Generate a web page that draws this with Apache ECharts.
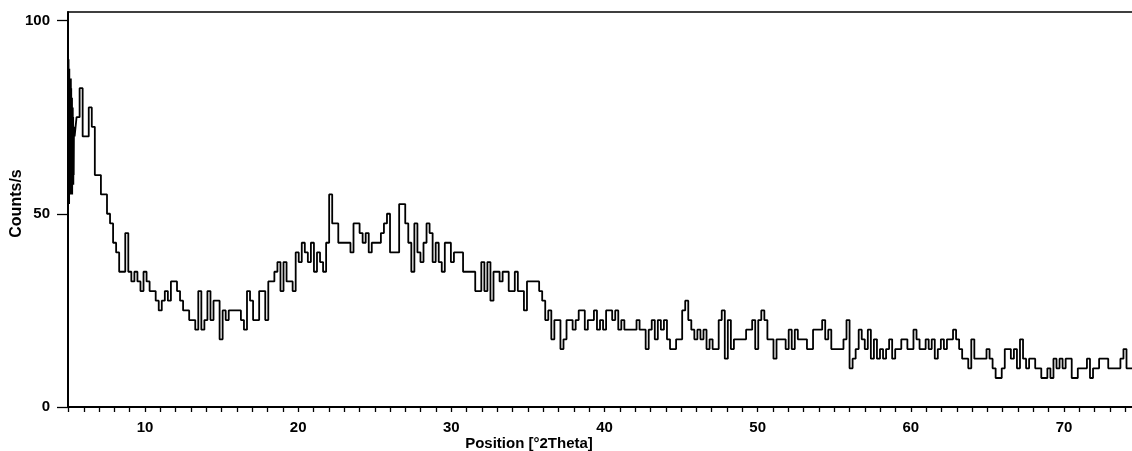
<!DOCTYPE html>
<html>
<head>
<meta charset="utf-8">
<script src="https://cdn.jsdelivr.net/npm/echarts@6/dist/echarts.min.js"></script>
<style>
  html, body { margin: 0; padding: 0; background: #fff; }
  #chart { width: 1132px; height: 451px; }
</style>
</head>
<body>
<div id="chart"></div>
<script>
// Fast oscillation at the very start of the scan (°2θ, counts/s)
const burstStart = 4.975;
const burstStep = 0.0125;
const burstCounts = [55, 90, 52.5, 90, 55, 87.5, 52.5, 87.5, 55, 85, 57.5, 85, 55, 82.5, 55, 85,
                     57.5, 82.5, 55, 80, 57.5, 80, 55, 77.5, 57.5, 77.5, 60, 75, 57.5, 72.5, 60, 70, 72.5];

// Main scan, one value per step
const scanStart = 5.43;
const scanStep = 0.1987;
const counts05 = [70, 75, 82.5, 70, 70, 77.5, 72.5, 60, 60, 55, 55, 50, 47.5, 42.5, 40, 35, 35, 45, 35, 32.5, 35, 32.5, 30];
const counts10 = [35, 32.5, 30, 30, 27.5, 25, 27.5, 30, 27.5, 32.5,
                  32.5, 30, 27.5, 25, 25, 22.5, 22.5, 20, 30, 20,
                  22.5, 30, 22.5, 27.5, 27.5, 17.5, 25, 22.5, 25, 25,
                  25, 25, 22.5, 20, 30, 27.5, 22.5, 22.5, 30, 30,
                  22.5, 32.5, 32.5, 35, 37.5, 30, 37.5, 32.5, 32.5, 30];
const counts20 = [40, 37.5, 42.5, 40, 37.5, 42.5, 35, 40, 37.5, 35,
                  42.5, 55, 47.5, 47.5, 42.5, 42.5, 42.5, 42.5, 40, 47.5,
                  47.5, 45, 42.5, 45, 40, 42.5, 42.5, 42.5, 45, 47.5,
                  50, 40, 40, 40, 52.5, 52.5, 47.5, 42.5, 35, 47.5,
                  40, 37.5, 42.5, 47.5, 45, 37.5, 42.5, 37.5, 35, 42.5];
const counts30 = [42.5, 37.5, 40, 40, 40, 35, 35, 35, 35, 30,
                  30, 37.5, 30, 37.5, 27.5, 35, 35, 32.5, 35, 35,
                  30, 30, 35, 30, 30, 25, 32.5, 32.5, 32.5, 32.5,
                  30, 27.5, 22.5, 25, 17.5, 22.5, 22.5, 15, 17.5, 22.5,
                  22.5, 20, 22.5, 25, 25, 20, 22.5, 22.5, 25, 20];
const counts40 = [22.5, 20, 25, 25, 22.5, 25, 20, 22.5, 20, 20,
                  20, 20, 22.5, 20, 20, 15, 20, 22.5, 17.5, 22.5,
                  20, 22.5, 17.5, 15, 15, 17.5, 17.5, 25, 27.5, 22.5,
                  20, 17.5, 20, 17.5, 20, 15, 17.5, 15, 15, 22.5,
                  25, 12.5, 22.5, 15, 17.5, 17.5, 17.5, 17.5, 20, 20];
const counts50 = [22.5, 15, 22.5, 25, 22.5, 17.5, 17.5, 12.5, 17.5, 17.5,
                  17.5, 15, 20, 15, 20, 17.5, 17.5, 17.5, 15, 15,
                  20, 20, 20, 22.5, 17.5, 20, 15, 15, 15, 15,
                  17.5, 22.5, 10, 12.5, 15, 20, 17.5, 15, 20, 12.5,
                  17.5, 12.5, 15, 12.5, 15, 17.5, 12.5, 15, 15, 17.5];
const counts60 = [17.5, 15, 15, 20, 17.5, 15, 15, 17.5, 15, 17.5,
                  12.5, 15, 17.5, 15, 17.5, 17.5, 20, 17.5, 15, 12.5,
                  12.5, 10, 17.5, 12.5, 12.5, 12.5, 12.5, 15, 12.5, 10,
                  7.5, 7.5, 10, 15, 15, 12.5, 15, 10, 17.5, 12.5,
                  10, 12.5, 12.5, 10, 10, 7.5, 7.5, 10, 7.5, 12.5];
const counts70 = [10, 12.5, 10, 12.5, 12.5, 7.5, 7.5, 10, 10, 10,
                  12.5, 7.5, 10, 10, 12.5, 12.5, 12.5, 10, 10, 10,
                  10, 12.5, 15, 10, 10, 10];

// Axis marks
const xMin = 4.97, xMax = 74.44;
const yMin = 0, yMax = 102.2;
const xLabelValues = [10, 20, 30, 40, 50, 60, 70];
const xTickValues = [];
for (let d = 5; d <= 74; d++) xTickValues.push(d);
const yLabelValues = [0, 50, 100];

const scanCounts = [].concat(counts05, counts10, counts20, counts30, counts40, counts50, counts60, counts70);
const points = burstCounts.map((c, i) => [burstStart + i * burstStep, c])
  .concat(scanCounts.map((c, i) => [scanStart + i * scanStep, c]));

const font = '"Liberation Sans", Arial, sans-serif';
const chart = echarts.init(document.getElementById('chart'), null, { renderer: 'canvas' });

chart.setOption({
  animation: false,
  backgroundColor: '#ffffff',
  grid: { left: 68, right: 0, top: 12, bottom: 44, containLabel: false, outerBoundsMode: 'none' },
  xAxis: [
    {
      type: 'value',
      min: xMin,
      max: xMax,
      position: 'bottom',
      name: 'Position [°2Theta]',
      nameLocation: 'middle',
      nameGap: 29,
      nameMoveOverlap: false,
      nameTextStyle: { color: '#000', fontFamily: font, fontWeight: 'bold', fontSize: 15, padding: [0, 142, 0, 0] },
      axisLine: { show: true, lineStyle: { color: '#000', width: 2 } },
      axisTick: { show: true, inside: false, length: 5, customValues: xTickValues, lineStyle: { color: '#000', width: 1.3 } },
      axisLabel: { show: true, customValues: xLabelValues, margin: 13, color: '#000', fontFamily: font, fontWeight: 'bold', fontSize: 15 },
      splitLine: { show: false }
    },
    {
      type: 'value',
      min: xMin,
      max: xMax,
      position: 'top',
      axisLine: { show: true, onZero: false, lineStyle: { color: '#000', width: 1.6 } },
      axisTick: { show: false },
      axisLabel: { show: false },
      splitLine: { show: false }
    }
  ],
  yAxis: {
    type: 'value',
    min: yMin,
    max: yMax,
    name: 'Counts/s',
    nameLocation: 'middle',
    nameGap: 43,
    nameMoveOverlap: false,
    nameTextStyle: { color: '#000', fontFamily: font, fontWeight: 'bold', fontSize: 16, padding: [0, 0, 0, 12] },
    axisLine: { show: true, lineStyle: { color: '#000', width: 2 } },
    axisTick: { show: true, inside: false, length: 11, customValues: yLabelValues, lineStyle: { color: '#000', width: 1.3 } },
    axisLabel: { show: true, customValues: yLabelValues, margin: 18, color: '#000', fontFamily: font, fontWeight: 'bold', fontSize: 15 },
    splitLine: { show: false }
  },
  series: [{
    type: 'line',
    xAxisIndex: 0,
    data: points,
    step: 'middle',
    showSymbol: false,
    symbol: 'none',
    clip: true,
    lineStyle: { color: '#000', width: 1.8 }
  }]
});
</script>
</body>
</html>
